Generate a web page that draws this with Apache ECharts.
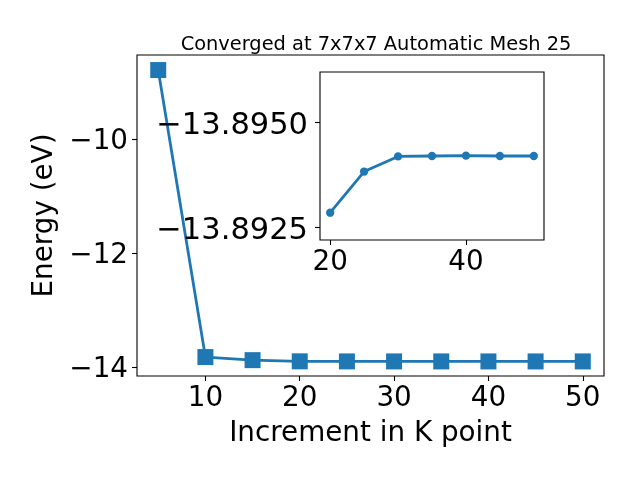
<!DOCTYPE html>
<html>
<head>
<meta charset="utf-8">
<script src="https://cdn.jsdelivr.net/npm/echarts@6/dist/echarts.min.js"></script>
<style>html,body{margin:0;padding:0;background:#fff}#c{width:640px;height:480px}</style>
</head>
<body>
<div id="c"></div>
<script>
const kPoints = [5, 10, 15, 20, 25, 30, 35, 40, 45, 50];
const energies = [-8.784, -13.818, -13.872, -13.89285, -13.89383, -13.89419, -13.89420, -13.89421, -13.89420, -13.89420];
const insetKPoints = [20, 25, 30, 35, 40, 45, 50];
const insetEnergies = [-13.89285, -13.89383, -13.89419, -13.89420, -13.89421, -13.89420, -13.89420];
const mainXTicks = [10, 20, 30, 40, 50];
const mainYTicks = [-14, -12, -10];
const insetXTicks = [20, 40];
const insetYTicks = [-13.8950, -13.8925];

const FONT = 'DejaVu Sans';
const minus = s => String(s).replace('-', '\u2212');
const C = '#1f77b4';

const chart = echarts.init(document.getElementById('c'), null, {renderer: 'canvas'});
const tickLabel = {fontFamily: FONT, fontSize: 27.8, color: '#000'};

chart.setOption({
  animation: false,
  backgroundColor: '#fff',
  title: {
    text: 'Converged at 7x7x7 Automatic Mesh 25',
    left: 371, top: 30, textAlign: 'center',
    textStyle: {fontFamily: FONT, fontSize: 19.4, fontWeight: 'normal', color: '#000'}
  },
  grid: [
    {left: 137, top: 55, width: 467, height: 321, show: true, borderColor: '#000', borderWidth: 1.1, backgroundColor: '#fff'},
    {left: 320, top: 72, width: 224, height: 168, show: true, borderColor: '#000', borderWidth: 1.1, backgroundColor: '#fff', z: 10}
  ],
  xAxis: [
    {
      gridIndex: 0, type: 'value', min: 2.75, max: 52.25,
      name: 'Increment in K point', nameLocation: 'middle', nameGap: 44,
      nameTextStyle: {fontFamily: FONT, fontSize: 27.8, color: '#000'},
      axisLine: {show: false}, splitLine: {show: false},
      axisTick: {show: true, length: 5, customValues: mainXTicks, lineStyle: {color: '#000', width: 1.1}},
      axisLabel: Object.assign({customValues: mainXTicks, margin: 9, formatter: v => minus(v)}, tickLabel)
    },
    {
      gridIndex: 1, type: 'value', min: 18.5, max: 51.5, z: 10,
      axisLine: {show: false}, splitLine: {show: false},
      axisTick: {show: true, length: 5, customValues: insetXTicks, lineStyle: {color: '#000', width: 1.1}},
      axisLabel: Object.assign({customValues: insetXTicks, margin: 9, formatter: v => minus(v)}, tickLabel)
    }
  ],
  yAxis: [
    {
      gridIndex: 0, type: 'value', min: -14.15, max: -8.52,
      name: 'Energy (eV)', nameLocation: 'middle', nameGap: 73,
      nameTextStyle: {fontFamily: FONT, fontSize: 27.8, color: '#000'},
      axisLine: {show: false}, splitLine: {show: false},
      axisTick: {show: true, length: 5, customValues: mainYTicks, lineStyle: {color: '#000', width: 1.1}},
      axisLabel: {
        customValues: mainYTicks, margin: 9, formatter: v => '{a|' + minus(v) + '}',
        rich: {a: {fontFamily: FONT, fontSize: 27.8, color: '#000', padding: [4, 0, 0, 0]}}
      }
    },
    {
      gridIndex: 1, type: 'value', inverse: true, min: -13.8962, max: -13.8922, z: 10,
      axisLine: {show: false}, splitLine: {show: false},
      axisTick: {show: true, length: 5, customValues: insetYTicks, lineStyle: {color: '#000', width: 1.1}},
      axisLabel: {
        customValues: insetYTicks, margin: 12, formatter: v => '{a|' + minus(Number(v).toFixed(4)) + '}',
        rich: {a: {fontFamily: FONT, fontSize: 30.5, color: '#000', padding: [8, 0, 0, 0]}}
      }
    }
  ],
  series: [
    {
      type: 'line', xAxisIndex: 0, yAxisIndex: 0,
      data: kPoints.map((k, i) => [k, energies[i]]),
      symbol: 'rect', symbolSize: 16,
      lineStyle: {color: C, width: 2.8}, itemStyle: {color: C}
    },
    {
      type: 'line', xAxisIndex: 1, yAxisIndex: 1, z: 12,
      data: insetKPoints.map((k, i) => [k, insetEnergies[i]]),
      symbol: 'circle', symbolSize: 8.3,
      lineStyle: {color: C, width: 2.8}, itemStyle: {color: C}
    }
  ]
});
</script>
</body>
</html>
